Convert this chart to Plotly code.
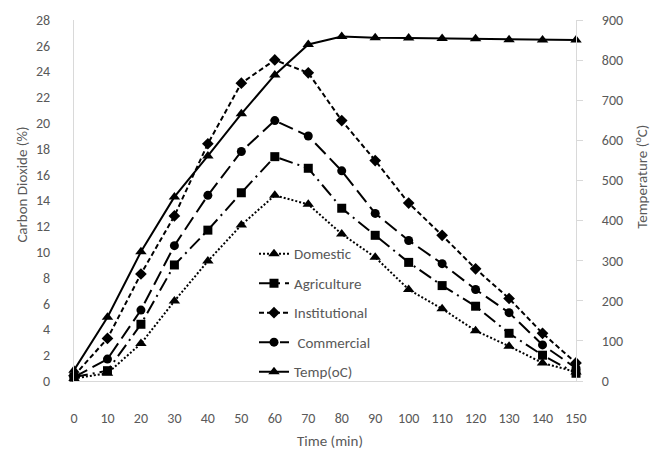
import plotly.graph_objects as go

time = [0, 10, 20, 30, 40, 50, 60, 70, 80, 90, 100, 110, 120, 130, 140, 150]
domestic = [0.2, 0.6, 2.9, 6.2, 9.3, 12.1, 14.4, 13.7, 11.4, 9.6, 7.1, 5.6, 3.9, 2.7, 1.4, 0.7]
agriculture = [0.3, 0.8, 4.4, 9.0, 11.7, 14.6, 17.4, 16.5, 13.4, 11.3, 9.2, 7.4, 5.8, 3.7, 2.0, 0.6]
institutional = [0.4, 3.3, 8.3, 12.8, 18.4, 23.1, 24.9, 23.9, 20.2, 17.1, 13.8, 11.3, 8.7, 6.4, 3.7, 1.4]
commercial = [0.3, 1.7, 5.5, 10.5, 14.4, 17.8, 20.2, 19.0, 16.3, 13.0, 10.9, 9.1, 7.1, 5.3, 2.8, 1.0]
temp = [27, 159, 322, 459, 561, 666, 763, 839, 859, 856, 855, 854, 853, 851, 850, 850]

FONT = "Carlito, Calibri, Lato, sans-serif"
GRAY = "#595959"
AXIS = "#d9d9d9"

fig = go.Figure()

def add(name, y, dash, symbol, size, yaxis="y"):
    fig.add_trace(go.Scatter(
        x=time, y=y, name=name, mode="lines+markers", yaxis=yaxis,
        line=dict(color="black", width=2, dash=dash),
        marker=dict(symbol=symbol, size=size, color="black"),
        cliponaxis=False, legendgroup=name,
    ))

add("Domestic", domestic, "2px,2px", "triangle-up", 10)
add("Agriculture", agriculture, "14px,5px,2px,5px", "square", 9)
add("Institutional", institutional, "5px,3px", "diamond", 9)
add(" Commercial", commercial, "15px,6px", "circle", 9)
add("Temp(oC)", temp, "solid", "triangle-up", 10, yaxis="y2")

fig.update_layout(
    width=665, height=459,
    margin=dict(l=74, r=89, t=12, b=78),
    paper_bgcolor="white", plot_bgcolor="white",
    font=dict(family=FONT, size=14, color=GRAY),
    showlegend=True,
    legend=dict(
        x=(254 - 74) / 502, xanchor="left",
        y=(381 - 234) / 369.5, yanchor="top",
        bgcolor="rgba(0,0,0,0)", borderwidth=0,
        font=dict(family=FONT, size=15, color=GRAY),
        tracegroupgap=7, traceorder="grouped",
    ),
    xaxis=dict(
        range=[0, 150], tickmode="array", tickvals=time,
        ticktext=[str(t) for t in time],
        showline=True, linecolor=AXIS, linewidth=1,
        showgrid=False, zeroline=False, ticks="",
        ticklabelstandoff=24,
    ),
    yaxis=dict(
        range=[0, 28], dtick=2, tick0=0,
        showline=True, linecolor=AXIS, linewidth=1,
        showgrid=False, zeroline=False, ticks="",
        ticklabelstandoff=20,
    ),
    yaxis2=dict(
        range=[0, 900], dtick=100, tick0=0, overlaying="y", side="right",
        showline=True, linecolor=AXIS, linewidth=1,
        showgrid=False, zeroline=False,
        ticks="outside", ticklen=6, tickcolor=AXIS,
        ticklabelstandoff=16,
    ),
    annotations=[
        dict(text="Carbon Dioxide (%)", xref="paper", yref="paper",
             x=(22 - 74) / 502, y=(381 - 180) / 369.5, textangle=-90,
             xanchor="center", yanchor="middle",
             showarrow=False, font=dict(family=FONT, size=15, color=GRAY)),
        dict(text="Temperature (<sup>o</sup>C)", xref="paper", yref="paper",
             x=(641 - 74) / 502, y=(381 - 172) / 369.5, textangle=-90,
             xanchor="center", yanchor="middle",
             showarrow=False, font=dict(family=FONT, size=15, color=GRAY)),
        dict(text="Time (min)", xref="paper", yref="paper",
             x=(330 - 74) / 502, y=(381 - 442) / 369.5,
             xanchor="center", yanchor="middle",
             showarrow=False, font=dict(family=FONT, size=15, color=GRAY)),
    ],
)

fig.write_html("out.html")
